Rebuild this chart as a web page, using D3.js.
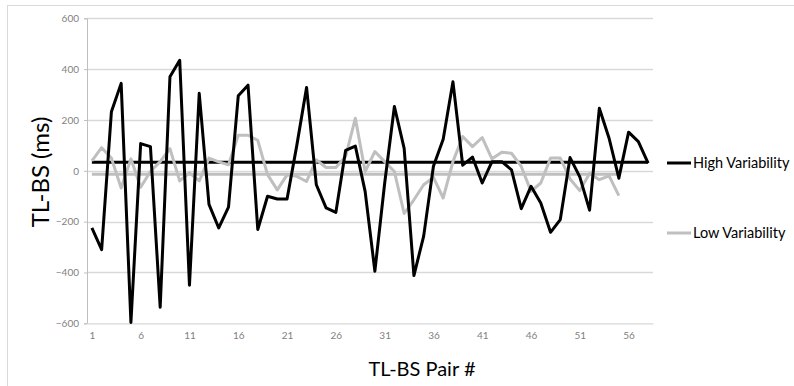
<!DOCTYPE html>
<html>
<head>
<meta charset="utf-8">
<script src="https://cdn.jsdelivr.net/npm/d3@7"></script>
<style>
  body { margin: 0; background: #fff; }
  svg { display: block; font-family: Lato, "Open Sans", sans-serif; }
</style>
</head>
<body>
<svg id="chart" width="794" height="386"></svg>
<script>
// values
const highVar = [
  -225, -310, 232, 344, -597, 107, 95, -537, 370, 435,
  -450, 305, -132, -225, -143, 295, 337, -231, -100, -111,
  -111, 100, 328, -55, -146, -164, 80, 97, -81, -395,
  -50, 253, 88, -412, -257, 18, 124, 350, 22, 54,
  -48, 36, 36, 4, -149, -61, -127, -242, -192, 52,
  -24, -155, 246, 128, -29, 152, 115, 30
]
const lowVar = [
  39, 91, 50, -68, 47, -65, -3, 36, 87, -40,
  -8, -40, 50, 35, 24, 140, 140, 120, -15, -75,
  -16, -22, -42, 43, 13, 13, 56, 207, -3, 76,
  36, -3, -168, -114, -55, -26, -107, 36, 135, 95,
  131, 47, 73, 69, 17, -81, -48, 50, 50, -32,
  -78, -11, -35, -20, -98
]
const highMean = 34
const lowMean = -14
const yTicks = [-600, -400, -200, 0, 200, 400, 600]
const xTickLabels = [1, 6, 11, 16, 21, 26, 31, 36, 41, 46, 51, 56]
const seriesNames = ['High Variability', 'Low Variability']

const svg = d3.select('#chart')
const black = '#000'
const grey = '#bfbfbf'

// chart border
svg.append('rect')
  .attr('x', 7.5).attr('y', 5.5)
  .attr('width', 790).attr('height', 390)
  .attr('fill', 'none').attr('stroke', '#d9d9d9')

const cats = d3.range(1, highVar.length + 1)
const x = d3.scalePoint()
  .domain(cats)
  .range([87, 653])
  .padding(0.5)
const y = d3.scaleLinear()
  .domain([-600, 600])
  .range([323.3, 18.3])

// gridlines
svg.append('g')
  .selectAll('line')
  .data(yTicks.filter(d => d !== -600))
  .join('line')
    .attr('x1', 87).attr('x2', 653)
    .attr('y1', d => Math.round(y(d)) + 0.5)
    .attr('y2', d => Math.round(y(d)) + 0.5)
    .attr('stroke', '#d9d9d9')
    .attr('stroke-width', 1.3)

// y axis
const yAxis = svg.append('g')
  .attr('transform', 'translate(87,0)')
  .call(d3.axisLeft(y).tickValues(yTicks).tickSize(3).tickPadding(5))
yAxis.select('.domain').attr('stroke', '#bfbfbf')
yAxis.selectAll('.tick line').attr('stroke', '#bfbfbf')
yAxis.selectAll('text')
  .attr('fill', '#7f7f7f')
  .style('font-size', '10px')
  .style('font-family', 'Lato, sans-serif')

// x axis
const xAxis = svg.append('g')
  .attr('transform', `translate(0,${y(-600)})`)
  .call(d3.axisBottom(x).tickValues(xTickLabels).tickSize(0).tickPadding(9))
xAxis.select('.domain').attr('stroke', '#d9d9d9').attr('stroke-width', 1.3)
xAxis.selectAll('text')
  .attr('fill', '#7f7f7f')
  .style('font-size', '10px')
  .style('font-family', 'Lato, sans-serif')

// titles
svg.append('text')
  .attr('transform', 'translate(49,172) rotate(-90)')
  .attr('text-anchor', 'middle')
  .attr('font-size', 24)
  .attr('fill', '#000')
  .text('TL-BS (ms)')

svg.append('text')
  .attr('x', 422).attr('y', 376)
  .attr('text-anchor', 'middle')
  .attr('font-size', 20)
  .attr('fill', '#000')
  .text('TL-BS Pair #')

const line = d3.line()
  .x((d, i) => x(i + 1))
  .y(d => y(d))

// mean lines
svg.append('line')
  .attr('x1', x(1)).attr('x2', x(lowVar.length))
  .attr('y1', y(lowMean)).attr('y2', y(lowMean))
  .attr('stroke', grey).attr('stroke-width', 3)
svg.append('line')
  .attr('x1', x(1)).attr('x2', x(highVar.length))
  .attr('y1', y(highMean)).attr('y2', y(highMean))
  .attr('stroke', black).attr('stroke-width', 3)

svg.append('path')
  .datum(lowVar)
  .attr('d', line)
  .attr('fill', 'none')
  .attr('stroke', grey)
  .attr('stroke-width', 3)
  .attr('stroke-linejoin', 'round')

svg.append('path')
  .datum(highVar)
  .attr('d', line)
  .attr('fill', 'none')
  .attr('stroke', black)
  .attr('stroke-width', 3)
  .attr('stroke-linejoin', 'round')

// legend
const legend = svg.append('g')
  .selectAll('g')
  .data(seriesNames)
  .join('g')
    .attr('transform', (d, i) => `translate(667,${163 + i * 70})`)
legend.append('line')
  .attr('x1', 0).attr('x2', 24)
  .attr('stroke', (d, i) => i === 0 ? black : grey)
  .attr('stroke-width', 3)
legend.append('text')
  .attr('x', 26).attr('y', 5)
  .attr('font-size', 14.5)
  .attr('fill', '#000')
  .text(d => d)
</script>
</body>
</html>
